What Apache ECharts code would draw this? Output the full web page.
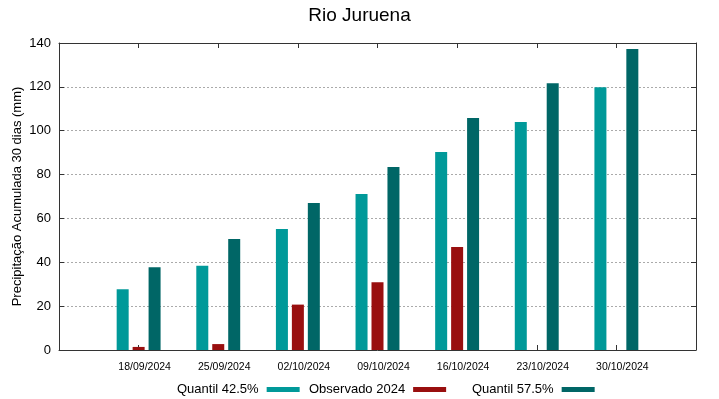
<!DOCTYPE html>
<html>
<head>
<meta charset="utf-8">
<script src="https://cdn.jsdelivr.net/npm/echarts@6/dist/echarts.min.js"></script>
<style>
  html, body { margin: 0; padding: 0; background: #fff; }
  #chart { width: 719px; height: 399px; }
</style>
</head>
<body>
<div id="chart"></div>
<script>
// datas (com categorias vazias nas pontas para o espaçamento do gnuplot)
const datas = ['', '18/09/2024', '25/09/2024', '02/10/2024', '09/10/2024', '16/10/2024', '23/10/2024', '30/10/2024', ''];
const quantil425 = [null, 27.7, 38.4, 55.2, 71.1, 90.3, 104.0, 119.8, null];
const observado = [null, 1.4, 2.7, 20.7, 30.9, 47.0, null, null, null];
const quantil575 = [null, 37.7, 50.6, 67.0, 83.4, 105.8, 121.7, 137.3, null];
const yTicks = [0, 20, 40, 60, 80, 100, 120, 140];

const fonte = 'Liberation Sans, Arial, sans-serif';
const chart = echarts.init(document.getElementById('chart'));

function legenda(nome, left) {
  return {
    data: [nome],
    left: left,
    top: 378,
    align: 'right',
    icon: 'rect',
    itemWidth: 33,
    itemHeight: 5,
    textStyle: { fontFamily: fonte, fontSize: 13, color: '#000', padding: [0, 3, 0, 0] }
  };
}

const eixoCor = '#333';

chart.setOption({
  animation: false,
  title: {
    text: 'Rio Juruena',
    left: 'center',
    top: 1,
    textStyle: { fontFamily: fonte, fontSize: 19, fontWeight: 'normal', color: '#000' }
  },
  legend: [
    legenda('Quantil 42.5%', 172),
    legenda('Observado 2024', 304),
    legenda('Quantil 57.5%', 467)
  ],
  grid: { left: 59, right: 23, top: 43, bottom: 49, outerBoundsMode: 'none' },
  xAxis: [{
    type: 'category',
    data: datas,
    boundaryGap: false,
    axisLine: { onZero: false, lineStyle: { color: eixoCor, width: 1 } },
    axisTick: { inside: true, length: 5, lineStyle: { color: eixoCor } },
    axisLabel: { fontFamily: fonte, fontSize: 10.5, color: '#000', margin: 12, padding: [0, 0, 0, 12], interval: 0 },
    splitLine: { show: false }
  }, {
    type: 'category',
    data: datas,
    position: 'top',
    boundaryGap: false,
    axisLine: { onZero: false, lineStyle: { color: eixoCor, width: 1 } },
    axisTick: { inside: true, length: 5, lineStyle: { color: eixoCor } },
    axisLabel: { show: false }
  }],
  yAxis: [{
    type: 'value',
    min: yTicks[0],
    max: yTicks[yTicks.length - 1],
    interval: 20,
    name: 'Precipitação Acumulada 30 dias (mm)',
    nameLocation: 'middle',
    nameGap: 35,
    nameMoveOverlap: false,
    nameTextStyle: { fontFamily: fonte, fontSize: 13, color: '#000' },
    axisLine: { show: true, onZero: false, lineStyle: { color: eixoCor, width: 1 } },
    axisTick: { show: true, inside: true, length: 5, lineStyle: { color: eixoCor } },
    axisLabel: { fontFamily: fonte, fontSize: 13, color: '#000', margin: 8 },
    splitLine: { show: true, lineStyle: { color: '#aaa', type: [2, 2], width: 1 } }
  }, {
    type: 'value',
    position: 'right',
    min: yTicks[0],
    max: yTicks[yTicks.length - 1],
    interval: 20,
    axisLine: { show: true, onZero: false, lineStyle: { color: eixoCor, width: 1 } },
    axisTick: { show: true, inside: true, length: 5, lineStyle: { color: eixoCor } },
    axisLabel: { show: false },
    splitLine: { show: false }
  }],
  series: [{
    name: 'Quantil 42.5%',
    type: 'bar',
    data: quantil425,
    barWidth: 12,
    barGap: '33%',
    itemStyle: { color: '#009999' }
  }, {
    name: 'Observado 2024',
    type: 'bar',
    data: observado,
    barWidth: 12,
    barGap: '33%',
    itemStyle: { color: '#990f0f' }
  }, {
    name: 'Quantil 57.5%',
    type: 'bar',
    data: quantil575,
    barWidth: 12,
    barGap: '33%',
    itemStyle: { color: '#006666' }
  }]
});
</script>
</body>
</html>
